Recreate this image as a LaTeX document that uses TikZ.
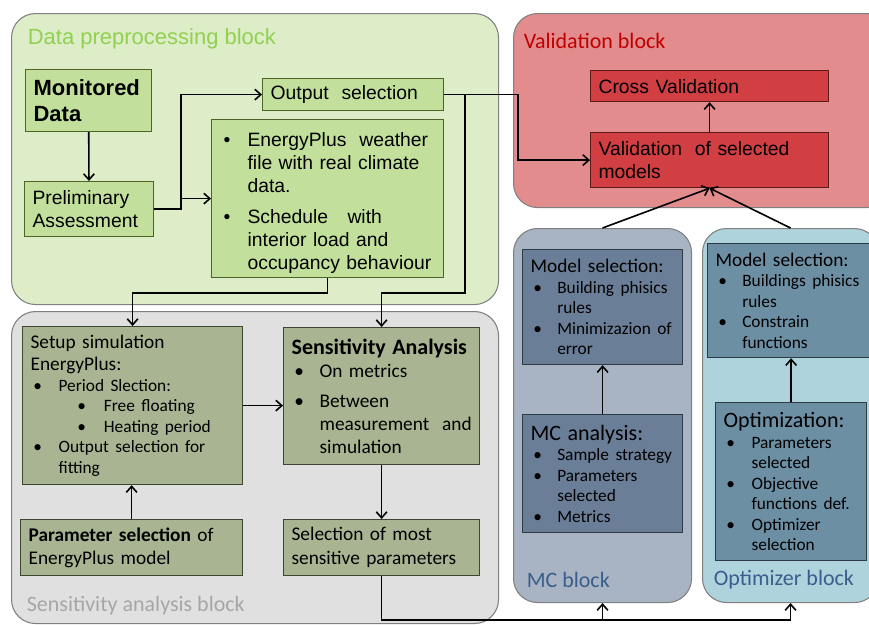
\documentclass[tikz,border=0pt]{standalone}
\usepackage{fontspec}
\setmainfont{Liberation Sans}
\newfontfamily\calfont{Carlito}
\usetikzlibrary{arrows,arrows.meta}

\definecolor{datafill}{HTML}{DCEDC8}
\definecolor{datatitle}{HTML}{92D050}
\definecolor{greenbox}{HTML}{C2E09C}
\definecolor{greenline}{HTML}{4F6228}
\definecolor{valfill}{HTML}{E38C8E}
\definecolor{valtitle}{HTML}{C00000}
\definecolor{redbox}{HTML}{D13F42}
\definecolor{redline}{HTML}{5A1A1A}
\definecolor{safill}{HTML}{E0E0E0}
\definecolor{satitle}{HTML}{A6A6A6}
\definecolor{olivebox}{HTML}{A9B592}
\definecolor{oliveline}{HTML}{3F4630}
\definecolor{mcfill}{HTML}{A8B4C3}
\definecolor{mcbox}{HTML}{6B7E98}
\definecolor{opfill}{HTML}{AED3DC}
\definecolor{opbox}{HTML}{6D8FA4}
\definecolor{bluetitle}{HTML}{3A5E8C}
\definecolor{slateline}{HTML}{2E3A48}

\newcommand{\armsize}{\fontsize{14.5}{17.25}\selectfont}
\newcommand{\armbig}{\fontsize{16.5}{20}\selectfont}
\newcommand{\calsmall}{\calfont\fontsize{14.5}{17}\selectfont}
\newcommand{\calbul}{\calfont\fontsize{13}{15.4}\selectfont}
\newcommand{\calbig}{\calfont\fontsize{16.5}{18}\selectfont}
% bullet item: bullet position, text position, text
\newcommand{\bitem}[3]{\par\noindent\hangindent=#2\hangafter=1\hspace*{#1}\makebox[\dimexpr#2-#1\relax][l]{\textbullet}#3\par}

\begin{document}
\begin{tikzpicture}[x=0.75pt, y=-0.75pt, >={Straight Barb[length=4.5pt,width=8pt]}, line width=1.2pt,
  blk/.style={draw=black!50, line width=0.8pt, rounded corners=18pt, anchor=north west, inner sep=0pt},
  ttl/.style={anchor=west, inner sep=0pt},
  box/.style={draw, line width=0.9pt, anchor=north west, align=left, inner xsep=6pt, inner ysep=2pt,
    execute at begin node={\rightskip=-12pt plus 1fil\relax}},
  sz/.style 2 args={minimum width=#1*0.75pt, minimum height=#2*0.75pt, text width=#1*0.75pt-12pt},
  gbox/.style={fill=greenbox, draw=greenline, font=\armsize},
  rbox/.style={fill=redbox, draw=redline, font=\armsize},
  obox/.style={fill=olivebox, draw=oliveline, font=\calsmall},
  sbox/.style={draw=slateline, font=\calsmall}]
  \useasboundingbox (0,0) rectangle (869,625);
  \clip (0,0) rectangle (869,625);

  % Blocks
  \node[blk, fill=datafill, sz={487}{291}] (datablk) at (11,13) {};
  \node[blk, fill=valfill, sz={377}{194}] (valblk) at (513,13) {};
  \node[blk, fill=safill, sz={487}{312}] (sablk) at (11,311) {};
  \node[blk, fill=mcfill, sz={178}{374}] (mcblk) at (513,228) {};
  \node[blk, fill=opfill, sz={176}{374}] (optblk) at (702,228) {};

  \node[ttl, text=datatitle, font=\armbig] (datattl) at (27,39) {Data preprocessing block};
  \node[ttl, text=valtitle, font=\calbig] (valttl) at (523,41) {Validation block};
  \node[ttl, text=satitle, font=\calbig] (sattl) at (26,606) {Sensitivity analysis block};
  \node[ttl, text=bluetitle, font=\calbig] (mcttl) at (526,580) {MC block};
  \node[ttl, text=bluetitle, font=\calbig] (optttl) at (713,580) {Optimizer block};

  % Data preprocessing
  \node[box, gbox, sz={126}{62}, font=\armbig\bfseries] (mon) at (25,69) {Monitored\\Data};
  \node[box, gbox, sz={129}{55}] (prel) at (24,181) {Preliminary\\Assessment};
  \node[box, gbox, sz={181}{32}] (outsel) at (262,78) {Output\ \ selection};
  \node[box, gbox, sz={232}{158}] (epw) at (211,119)
    {\bitem{3pt}{21pt}{EnergyPlus\ \ weather\newline file with real climate\newline data.}\vspace{6pt}%
     \bitem{3pt}{21pt}{Schedule\ \ \ with\newline interior load and\newline occupancy behaviour}};

  % Validation
  \node[box, rbox, sz={238}{31}] (crossv) at (590,70) {Cross Validation};
  \node[box, rbox, sz={238}{55}] (valsel) at (590,132) {Validation\ \ of selected\\models};

  % Sensitivity analysis
  \node[box, obox, sz={220}{158}] (setup) at (22,326)
    {Setup simulation\newline EnergyPlus:\par\calbul
     \bitem{2pt}{21pt}{Period Slection:}%
     \bitem{35pt}{55pt}{Free floating}%
     \bitem{35pt}{55pt}{Heating period}%
     \bitem{2pt}{21pt}{Output selection for\newline fitting}};
  \node[box, obox, sz={222}{56}, font=\calfont\fontsize{14.5}{17}\selectfont] (parsel) at (20,519)
    {\textbf{Parameter selection} of\newline EnergyPlus model};
  \node[box, obox, sz={196}{137}, font=\calfont\fontsize{14.5}{17.25}\selectfont] (sens) at (283,327)
    {{\calbig\bfseries Sensitivity Analysis\par}%
     \bitem{2pt}{21pt}{On metrics}\vspace{5pt}%
     \bitem{2pt}{21pt}{Between\newline measurement\ \ and\newline simulation}};
  \node[box, obox, sz={196}{56}, font=\calfont\fontsize{14.5}{18}\selectfont] (selmost) at (283,519)
    {Selection of most\newline sensitive parameters};

  % MC
  \node[box, sbox, fill=mcbox, sz={160}{115}] (mcmod) at (522,249)
    {Model selection:\par\calbul
     \bitem{2pt}{20pt}{Building phisics\newline rules}%
     \bitem{2pt}{20pt}{Minimizazion of\newline error}};
  \node[box, sbox, fill=mcbox, sz={160}{118}] (mcan) at (522,414)
    {{\calbig MC analysis:\par}\calbul
     \bitem{2pt}{20pt}{Sample strategy}%
     \bitem{2pt}{20pt}{Parameters\newline selected}%
     \bitem{2pt}{20pt}{Metrics}};

  % Optimizer
  \node[box, sbox, fill=opbox, sz={170}{114}] (optmod) at (707,243)
    {Model selection:\par\calbul
     \bitem{2pt}{20pt}{Buildings phisics\newline rules}%
     \bitem{2pt}{20pt}{Constrain\newline functions}};
  \node[box, sbox, fill=opbox, sz={151}{158}] (optim) at (715,402)
    {{\calbig Optimization:\par}\calbul
     \bitem{2pt}{21pt}{Parameters\newline selected}%
     \bitem{2pt}{21pt}{Objective\newline functions def.}%
     \bitem{2pt}{21pt}{Optimizer\newline selection}};

  % Connectors
  \coordinate (saknee) at (465,293);
  \draw[->] (mon) -- (prel);
  \draw[->] (prel.east) -- ++(27,0) |- (outsel.west);
  \draw[->] (prel.east) ++(27,0) |- (epw.west);
  \draw[->] (outsel.east) -- ++(74,0) |- (valsel.west);
  \draw[->] (outsel.east) -| (saknee) -| (sens.north);
  \draw[->] (epw.south) -- ++(0,15) -| (setup.north);
  \draw[->] (valsel) -- (crossv);
  \draw[->] (mcblk.north) -- (valsel.south);
  \draw[->] (optblk.north) -- (valsel.south);
  \draw[->] (mcan) -- (mcmod);
  \draw[->] (optim.north) -- (optim.north |- optmod.south);
  \draw[->] (setup.east) -- (setup.east -| sens.west);
  \draw[->] (parsel.north) -- (parsel.north |- setup.south);
  \draw[->] (sens) -- (selmost);
  \draw[->] (selmost.south) -- ++(0,44) -| (optblk.south);
  \draw[->] (selmost.south) ++(0,44) -| (mcblk.south);
\end{tikzpicture}
\end{document}
